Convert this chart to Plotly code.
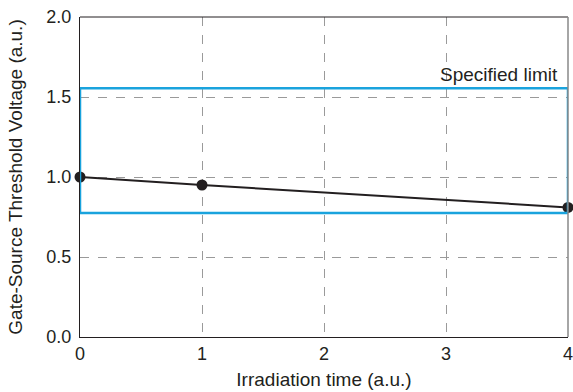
import plotly.graph_objects as go

time = [0, 1, 4]
voltage = [1.0, 0.95, 0.81]
limit_low = 0.775
limit_high = 1.555
x_ticks = [0, 1, 2, 3, 4]
y_ticks = [0.0, 0.5, 1.0, 1.5, 2.0]
y_tick_text = ["0.0", "0.5", "1.0", "1.5", "2.0"]

ink = "#231f20"
fig = go.Figure()
fig.add_trace(go.Scatter(
    x=time, y=voltage, mode="lines+markers",
    line=dict(color=ink, width=2),
    marker=dict(color=ink, size=11),
    cliponaxis=False, showlegend=False))

fig.add_shape(type="rect", xref="x", yref="y", x0=time[0], x1=time[-1],
              y0=limit_low, y1=limit_high,
              line=dict(color="#1aa3dd", width=2.5), layer="above")
fig.add_annotation(x=4, y=limit_high, xref="x", yref="y", text="Specified limit",
                   showarrow=False, xanchor="right", yanchor="bottom", xshift=-8, yshift=1,
                   font=dict(size=19, color=ink))
fig.add_shape(type="line", xref="paper", yref="paper", x0=0, x1=1, y0=1, y1=1,
              line=dict(color=ink, width=1))
fig.add_shape(type="line", xref="paper", yref="paper", x0=1, x1=1, y0=0, y1=1,
              line=dict(color="#888888", width=1.5))

fig.update_xaxes(range=[0, 4], tickvals=x_ticks, showgrid=True,
                 gridcolor="#9a9a9a", griddash="dash", gridwidth=1,
                 showline=True, linecolor=ink, linewidth=1.2,
                 zeroline=False, ticks="", tickfont=dict(size=18, color=ink),
                 automargin=False, ticklabeloverflow="allow",
                 title=dict(text="Irradiation time (a.u.)", font=dict(size=19, color=ink), standoff=9))
fig.update_yaxes(range=[0, 2], tickvals=y_ticks, ticktext=y_tick_text, showgrid=True,
                 gridcolor="#9a9a9a", griddash="dash", gridwidth=1,
                 showline=True, linecolor=ink, linewidth=1.2,
                 zeroline=False, ticks="", tickfont=dict(size=18, color=ink),
                 ticklabelstandoff=4, automargin=False, ticklabeloverflow="allow",
                 title=dict(text="Gate-Source Threshold Voltage (a.u.)", font=dict(size=19, color=ink), standoff=18))

fig.update_layout(width=573, height=392, margin=dict(l=80, r=5, t=17, b=55),
                  plot_bgcolor="white", paper_bgcolor="white",
                  font=dict(family="Liberation Sans, Arial, sans-serif"))
fig.write_html("out.html")
